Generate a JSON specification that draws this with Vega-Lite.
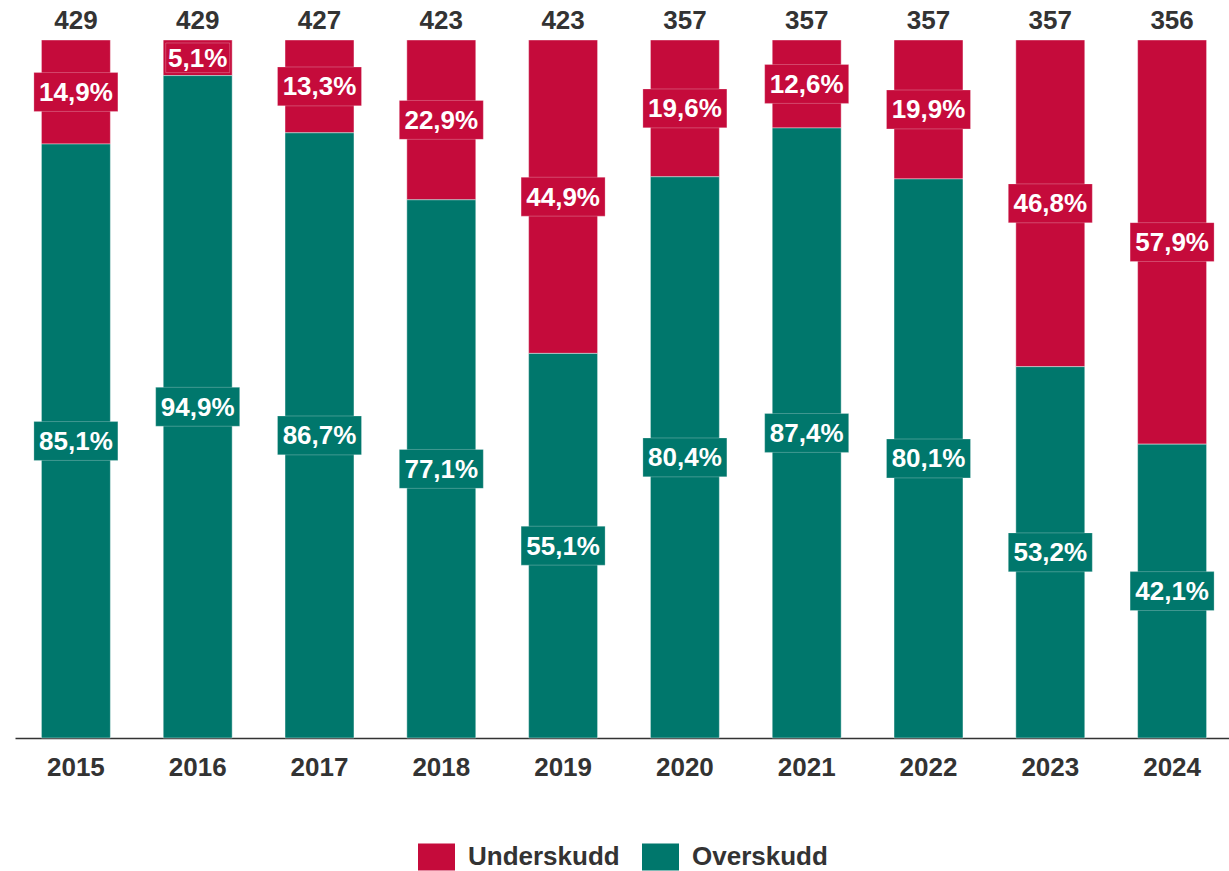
{
  "$schema": "https://vega.github.io/schema/vega-lite/v6.json",
  "autosize": {"type": "none"},
  "padding": {"left": 15, "top": 40, "right": 0, "bottom": 133},
  "width": 1218,
  "height": 698,
  "background": "white",
  "config": {
    "view": {"stroke": null},
    "font": "Liberation Sans",
    "text": {"font": "Liberation Sans"}
  },
  "data": {
    "values": [
      {"year": "2015", "category": "Underskudd", "pct": 14.9, "total": 429},
      {"year": "2015", "category": "Overskudd", "pct": 85.1, "total": 429},
      {"year": "2016", "category": "Underskudd", "pct": 5.1, "total": 429},
      {"year": "2016", "category": "Overskudd", "pct": 94.9, "total": 429},
      {"year": "2017", "category": "Underskudd", "pct": 13.3, "total": 427},
      {"year": "2017", "category": "Overskudd", "pct": 86.7, "total": 427},
      {"year": "2018", "category": "Underskudd", "pct": 22.9, "total": 423},
      {"year": "2018", "category": "Overskudd", "pct": 77.1, "total": 423},
      {"year": "2019", "category": "Underskudd", "pct": 44.9, "total": 423},
      {"year": "2019", "category": "Overskudd", "pct": 55.1, "total": 423},
      {"year": "2020", "category": "Underskudd", "pct": 19.6, "total": 357},
      {"year": "2020", "category": "Overskudd", "pct": 80.4, "total": 357},
      {"year": "2021", "category": "Underskudd", "pct": 12.6, "total": 357},
      {"year": "2021", "category": "Overskudd", "pct": 87.4, "total": 357},
      {"year": "2022", "category": "Underskudd", "pct": 19.9, "total": 357},
      {"year": "2022", "category": "Overskudd", "pct": 80.1, "total": 357},
      {"year": "2023", "category": "Underskudd", "pct": 46.8, "total": 357},
      {"year": "2023", "category": "Overskudd", "pct": 53.2, "total": 357},
      {"year": "2024", "category": "Underskudd", "pct": 57.9, "total": 356},
      {"year": "2024", "category": "Overskudd", "pct": 42.1, "total": 356}
    ]
  },
  "transform": [
    {"calculate": "datum.category === 'Overskudd' ? datum.pct / 2 : 100 - datum.pct / 2", "as": "mid"},
    {"calculate": "datum.category === 'Overskudd' ? 0 : 100 - datum.pct", "as": "y0"},
    {"calculate": "datum.category === 'Overskudd' ? datum.pct : 100", "as": "y1"},
    {"calculate": "replace(format(datum.pct, '.1f'), '.', ',') + '%'", "as": "label"}
  ],
  "encoding": {
    "x": {
      "field": "year",
      "type": "ordinal",
      "scale": {"paddingInner": 0.434, "paddingOuter": 0.217},
      "axis": {
        "title": null,
        "labelAngle": 0,
        "ticks": false,
        "labelFontSize": 26,
        "labelFontWeight": "bold",
        "labelColor": "#333333",
        "labelPadding": 16,
        "domainColor": "#333333",
        "domainWidth": 1.5
      }
    }
  },
  "layer": [
    {
      "mark": {"type": "bar", "stroke": "white", "strokeWidth": 1, "strokeOpacity": 0.4},
      "encoding": {
        "y": {"field": "y0", "type": "quantitative", "scale": {"domain": [0, 100], "nice": false}, "axis": null},
        "y2": {"field": "y1"},
        "color": {
          "field": "category",
          "type": "nominal",
          "scale": {"domain": ["Underskudd", "Overskudd"], "range": ["#C50B3B", "#00776C"]},
          "legend": {
            "title": null,
            "orient": "none",
            "direction": "horizontal",
            "legendX": 403,
            "legendY": 798,
            "symbolType": "M-1,-0.73L1,-0.73L1,0.73L-1,0.73Z",
            "symbolSize": 1369,
            "symbolStrokeWidth": 0,
            "labelFontSize": 26,
            "labelFontWeight": "bold",
            "labelColor": "#333333",
            "labelOffset": 13,
            "columnPadding": 22,
            "labelLimit": 300
          }
        }
      }
    },
    {
      "mark": {"type": "point", "filled": true, "opacity": 1, "shape": "M-1,-0.463L1,-0.463L1,0.463L-1,0.463Z", "stroke": "white", "strokeWidth": 1, "strokeOpacity": 0.25},
      "encoding": {
        "y": {"field": "mid", "type": "quantitative"},
        "color": {"field": "category", "type": "nominal"},
        "size": {"condition": {"test": "datum.pct < 10", "value": 4096}, "value": 7056}
      }
    },
    {
      "mark": {"type": "text", "fontSize": 26, "fontWeight": "bold", "color": "white", "baseline": "middle", "dy": 1},
      "encoding": {
        "y": {"field": "mid", "type": "quantitative"},
        "text": {"field": "label"}
      }
    },
    {
      "transform": [{"filter": "datum.category === 'Underskudd'"}],
      "mark": {"type": "text", "fontSize": 26, "fontWeight": "bold", "color": "#333333", "baseline": "alphabetic", "dy": -11},
      "encoding": {
        "y": {"datum": 100, "type": "quantitative"},
        "text": {"field": "total"}
      }
    }
  ]
}
